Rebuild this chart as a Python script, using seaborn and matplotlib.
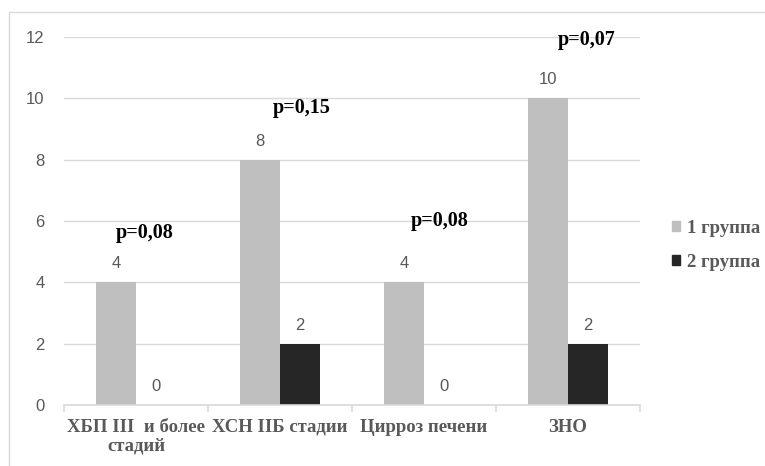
import matplotlib
matplotlib.use("Agg")
import matplotlib.pyplot as plt
import seaborn as sns
import pandas as pd
from matplotlib.patches import Rectangle

# Data
categories = ["ХБП III  и более\nстадий", "ХСН IIБ стадии", "Цирроз печени", "ЗНО"]
groups = ["1 группа", "2 группа"]
group1 = [4, 8, 4, 10]
group2 = [0, 2, 0, 2]
p_labels = ["p=0,08", "p=0,15", "p=0,08", "p=0,07"]
p_pos = [(0.06, 5.6), (1.15, 9.7), (2.11, 6.0), (3.13, 11.9)]

df = pd.DataFrame({
    "cat": categories * 2,
    "group": [groups[0]] * 4 + [groups[1]] * 4,
    "value": group1 + group2,
})

sns.set_theme(style="white")
plt.rcParams["font.family"] = ["Liberation Sans", "DejaVu Sans"]

fig = plt.figure(figsize=(7.65, 4.66), dpi=100)
ax = fig.add_axes([64 / 765, 1 - 405 / 466, 576 / 765, 368 / 466])

palette = {groups[0]: "#BFBFBF", groups[1]: "#262626"}
sns.barplot(data=df, x="cat", y="value", hue="group", order=categories,
            hue_order=groups, palette=palette, width=0.56, gap=0,
            saturation=1, ax=ax, legend=False, linewidth=0)

ax.set_ylim(0, 12)
ax.set_xlim(-0.5, 3.5)
ax.set_yticks(range(0, 13, 2))
ax.yaxis.grid(True, color="#D9D9D9", linewidth=1)
ax.set_axisbelow(True)
ax.set_xlabel("")
ax.set_ylabel("")
for s in ["top", "right", "left"]:
    ax.spines[s].set_visible(False)
ax.spines["bottom"].set_color("#D9D9D9")
ax.spines["bottom"].set_linewidth(1.2)

ax.tick_params(axis="y", length=0, pad=14, labelsize=12, labelcolor="#595959")
ax.set_xticks(range(4))
ax.set_xticklabels(categories, fontfamily="Liberation Serif", fontweight="bold",
                   fontsize=13.5, color="#595959", linespacing=1.15)
ax.tick_params(axis="x", which="major", length=0, pad=10)
ax.set_xticks([-0.5, 0.5, 1.5, 2.5, 3.5], minor=True)
ax.tick_params(axis="x", which="minor", length=5, color="#D9D9D9", width=1.2,
               direction="out", bottom=True)

# value labels above bars
for container in ax.containers:
    ax.bar_label(container, fmt="%d", padding=8, fontsize=12, color="#595959")

# p-values
for txt, (x, y) in zip(p_labels, p_pos):
    ax.text(x, y, txt, ha="center", va="center", fontfamily="Liberation Serif",
            fontweight="bold", fontsize=14.5, color="black")

# legend
handles = [Rectangle((0, 0), 1, 1, color=palette[g]) for g in groups]
fig.legend(handles, groups, loc="upper left", bbox_to_anchor=(655 / 765, 1 - 203 / 466),
           frameon=False, handlelength=0.45, handleheight=0.45, handletextpad=0.35,
           labelspacing=0.9, prop={"family": "Liberation Serif", "weight": "bold", "size": 13.5},
           labelcolor="#595959")

# outer chart border
fig.patches.append(Rectangle((9 / 765, -0.1), 1.0, 1 - 12 / 466 + 0.1,
                             transform=fig.transFigure, fill=False,
                             edgecolor="#D9D9D9", linewidth=1))

fig.savefig("out.png", dpi=100)
